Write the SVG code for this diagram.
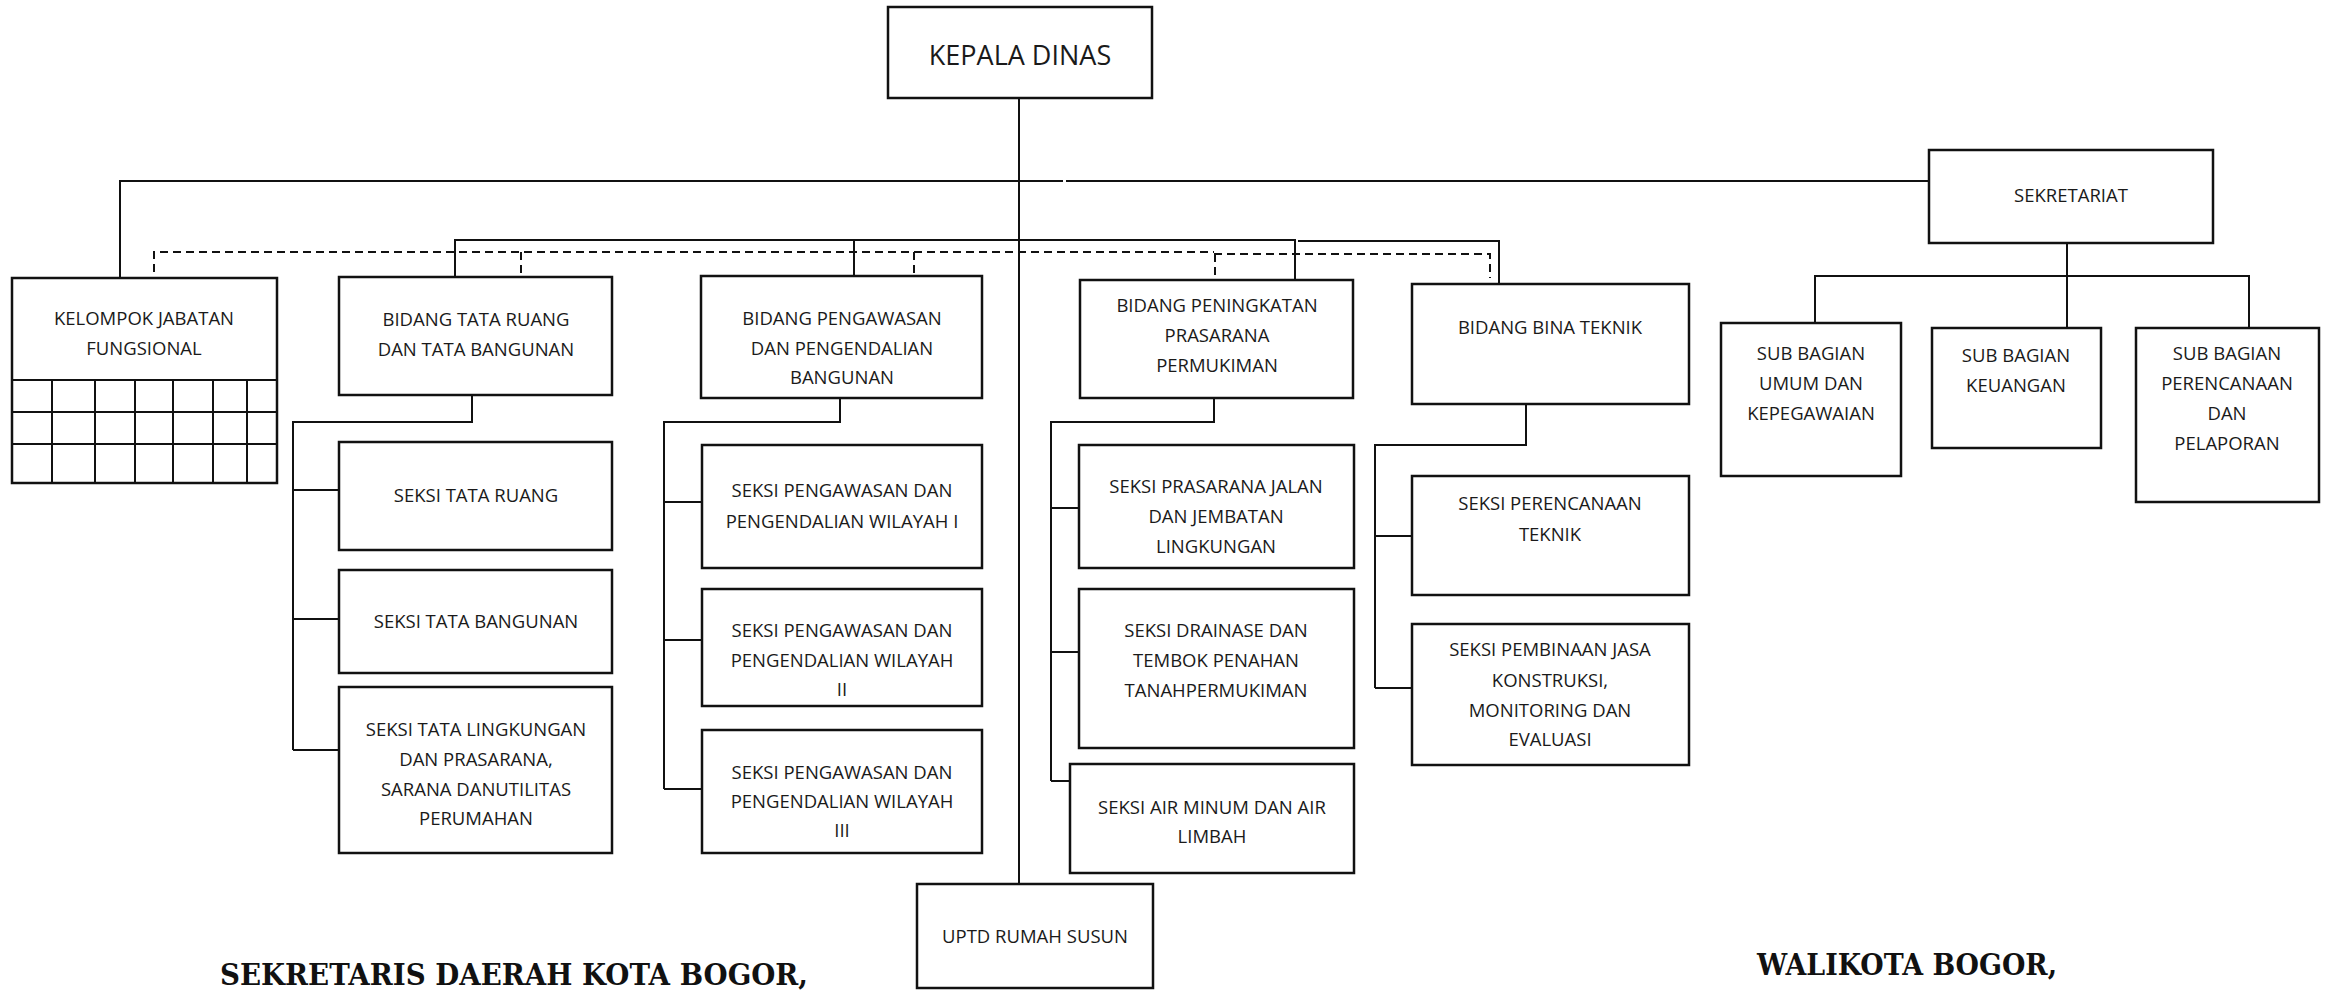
<svg xmlns="http://www.w3.org/2000/svg" width="2329" height="990" viewBox="0 0 2329 990">
<style>
.box{fill:#fff;stroke:#111;stroke-width:2.5}
.t{font-family:"Open Sans","Liberation Sans",sans-serif;font-size:18.5px;fill:#1a1a1a;text-anchor:middle}
.big{font-size:27px}
.c{fill:none;stroke:#111;stroke-width:2}
.d{fill:none;stroke:#111;stroke-width:2;stroke-dasharray:8 5}
.sig{font-family:"DejaVu Serif","Liberation Serif",serif;font-weight:bold;font-size:30px;fill:#111}
</style>
<rect width="2329" height="990" fill="#fff"/>
<g id="connectors">
<path class="c" d="M1019 98V884"/>
<path class="c" d="M120 277V181H1063M1066 181H1929"/>
<path class="c" d="M455 277V240H1296M1298 241H1499V284M854 240V276M1295 240V280"/>
<path class="d" d="M154 272V252H1214M1214 254H1490V278M521 252V276M914 252V276M1215 254V280"/>
<path class="c" d="M472 395V422H293V750M293 490H339M293 619H339M293 750H339"/>
<path class="c" d="M840 398V422H664V789M664 502H702M664 640H702M664 789H702"/>
<path class="c" d="M1214 398V422H1051V781M1051 508H1079M1051 652H1079M1051 781H1070"/>
<path class="c" d="M1526 404V445H1375V688M1375 536H1412M1375 688H1412"/>
<path class="c" d="M2067 243V328M1815 323V276H2249V328"/>
</g>
<g id="kepala-dinas"><rect class="box" x="888" y="7" width="264" height="91"/><text class="t big" x="1020" y="65">KEPALA DINAS</text></g>
<g id="kelompok-jabatan-fungsional">
<rect class="box" x="12" y="278" width="265" height="205"/>
<path class="c" d="M12 380H277M12 412H277M12 444H277M52 380V483M95 380V483M135 380V483M173 380V483M213 380V483M247 380V483"/>
<text class="t" x="144" y="325">KELOMPOK JABATAN</text><text class="t" x="144" y="355">FUNGSIONAL</text></g>
<g id="bidang-tata-ruang"><rect class="box" x="339" y="277" width="273" height="118"/><text class="t" x="476" y="326">BIDANG TATA RUANG</text><text class="t" x="476" y="356">DAN TATA BANGUNAN</text></g>
<g id="bidang-pengawasan"><rect class="box" x="701" y="276" width="281" height="122"/><text class="t" x="842" y="325">BIDANG PENGAWASAN</text><text class="t" x="842" y="355">DAN PENGENDALIAN</text><text class="t" x="842" y="384">BANGUNAN</text></g>
<g id="bidang-peningkatan"><rect class="box" x="1080" y="280" width="273" height="118"/><text class="t" x="1217" y="312">BIDANG PENINGKATAN</text><text class="t" x="1217" y="342">PRASARANA</text><text class="t" x="1217" y="372">PERMUKIMAN</text></g>
<g id="bidang-bina-teknik"><rect class="box" x="1412" y="284" width="277" height="120"/><text class="t" x="1550" y="334">BIDANG BINA TEKNIK</text></g>
<g id="sekretariat"><rect class="box" x="1929" y="150" width="284" height="93"/><text class="t" x="2071" y="202">SEKRETARIAT</text></g>
<g id="sub-bagian-umum"><rect class="box" x="1721" y="323" width="180" height="153"/><text class="t" x="1811" y="360">SUB BAGIAN</text><text class="t" x="1811" y="390">UMUM DAN</text><text class="t" x="1811" y="420">KEPEGAWAIAN</text></g>
<g id="sub-bagian-keuangan"><rect class="box" x="1932" y="328" width="169" height="120"/><text class="t" x="2016" y="362">SUB BAGIAN</text><text class="t" x="2016" y="392">KEUANGAN</text></g>
<g id="sub-bagian-perencanaan"><rect class="box" x="2136" y="328" width="183" height="174"/><text class="t" x="2227" y="360">SUB BAGIAN</text><text class="t" x="2227" y="390">PERENCANAAN</text><text class="t" x="2227" y="420">DAN</text><text class="t" x="2227" y="450">PELAPORAN</text></g>
<g id="seksi-tata-ruang"><rect class="box" x="339" y="442" width="273" height="108"/><text class="t" x="476" y="502">SEKSI TATA RUANG</text></g>
<g id="seksi-tata-bangunan"><rect class="box" x="339" y="570" width="273" height="103"/><text class="t" x="476" y="628">SEKSI TATA BANGUNAN</text></g>
<g id="seksi-tata-lingkungan"><rect class="box" x="339" y="687" width="273" height="166"/><text class="t" x="476" y="736">SEKSI TATA LINGKUNGAN</text><text class="t" x="476" y="766">DAN PRASARANA,</text><text class="t" x="476" y="796">SARANA DANUTILITAS</text><text class="t" x="476" y="825">PERUMAHAN</text></g>
<g id="seksi-pengawasan-1"><rect class="box" x="702" y="445" width="280" height="123"/><text class="t" x="842" y="497">SEKSI PENGAWASAN DAN</text><text class="t" x="842" y="528">PENGENDALIAN WILAYAH I</text></g>
<g id="seksi-pengawasan-2"><rect class="box" x="702" y="589" width="280" height="117"/><text class="t" x="842" y="637">SEKSI PENGAWASAN DAN</text><text class="t" x="842" y="667">PENGENDALIAN WILAYAH</text><text class="t" x="842" y="696">II</text></g>
<g id="seksi-pengawasan-3"><rect class="box" x="702" y="730" width="280" height="123"/><text class="t" x="842" y="779">SEKSI PENGAWASAN DAN</text><text class="t" x="842" y="808">PENGENDALIAN WILAYAH</text><text class="t" x="842" y="837">III</text></g>
<g id="seksi-prasarana-jalan"><rect class="box" x="1079" y="445" width="275" height="123"/><text class="t" x="1216" y="493">SEKSI PRASARANA JALAN</text><text class="t" x="1216" y="523">DAN JEMBATAN</text><text class="t" x="1216" y="553">LINGKUNGAN</text></g>
<g id="seksi-drainase"><rect class="box" x="1079" y="589" width="275" height="159"/><text class="t" x="1216" y="637">SEKSI DRAINASE DAN</text><text class="t" x="1216" y="667">TEMBOK PENAHAN</text><text class="t" x="1216" y="697">TANAHPERMUKIMAN</text></g>
<g id="seksi-air-minum"><rect class="box" x="1070" y="764" width="284" height="109"/><text class="t" x="1212" y="814">SEKSI AIR MINUM DAN AIR</text><text class="t" x="1212" y="843">LIMBAH</text></g>
<g id="seksi-perencanaan-teknik"><rect class="box" x="1412" y="476" width="277" height="119"/><text class="t" x="1550" y="510">SEKSI PERENCANAAN</text><text class="t" x="1550" y="541">TEKNIK</text></g>
<g id="seksi-pembinaan-jasa"><rect class="box" x="1412" y="624" width="277" height="141"/><text class="t" x="1550" y="656">SEKSI PEMBINAAN JASA</text><text class="t" x="1550" y="687">KONSTRUKSI,</text><text class="t" x="1550" y="717">MONITORING DAN</text><text class="t" x="1550" y="746">EVALUASI</text></g>
<g id="uptd-rumah-susun"><rect class="box" x="917" y="884" width="236" height="104"/><text class="t" x="1035" y="943">UPTD RUMAH SUSUN</text></g>
<text class="sig" x="220" y="985" textLength="588" lengthAdjust="spacingAndGlyphs">SEKRETARIS DAERAH KOTA BOGOR,</text>
<text class="sig" x="1757" y="975" textLength="300" lengthAdjust="spacingAndGlyphs">WALIKOTA BOGOR,</text>
</svg>
